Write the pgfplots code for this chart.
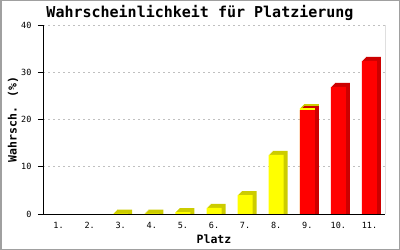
\documentclass[border=0pt]{standalone}
\usepackage{fontspec}
\setmainfont{DejaVu Sans Mono}
\usepackage{pgfplots}
\pgfplotsset{compat=1.18}
\usepackage{pgfplotstable}

\definecolor{yel}{HTML}{FFFF00}
\definecolor{dyel}{HTML}{CCCC00}
\definecolor{rd}{HTML}{FF0000}
\definecolor{drd}{HTML}{CC0000}
\definecolor{frame}{HTML}{A0A0A0}
\definecolor{gridc}{HTML}{C0C0C0}

\pgfplotstableread{
x v
3 0.1
4 0.1
5 0.4
6 1.3
7 4.0
8 12.5
9 22.4
}\yeltab
\pgfplotstableread{
x v
9 22.0
10 26.9
11 32.4
}\redtab

\begin{document}
\begin{tikzpicture}
\useasboundingbox (0,0) rectangle (400bp,250bp);
\draw[frame, line width=1.5bp] (0.75bp,0.75bp) rectangle (399.25bp,249.25bp);
\begin{axis}[
  at={(43bp,36bp)}, anchor=south west, scale only axis,
  width=342bp, height=189bp,
  xmin=0.5, xmax=11.5, ymin=0, ymax=40,
  axis x line*=bottom, axis y line*=left,
  axis line style={line width=1bp, black},
  tick align=outside,
  major tick length=5bp,
  ytick={0,10,20,30,40},
  xtick={1,...,11},
  xticklabels={1.,2.,3.,4.,5.,6.,7.,8.,9.,10.,11.},
  xtick style={draw=none},
  ytick style={line width=1bp, black},
  /pgf/number format/assume math mode=true,
  ticklabel style={font=\fontsize{8.5bp}{10bp}\selectfont},
  yticklabel style={xshift=-3bp},
  xticklabel style={yshift=0.5bp},
  ymajorgrids,
  major grid style={gridc, line width=1bp, dash pattern=on 2bp off 3bp},
  title={Wahrscheinlichkeit für Platzierung},
  title style={font=\bfseries\fontsize{15bp}{18bp}\selectfont, at={(0.5,1)}, anchor=base, xshift=-14bp, yshift=1.7bp},
  xlabel={Platz},
  xlabel style={font=\bfseries\fontsize{11.5bp}{14bp}\selectfont, at={(0.5,0)}, anchor=base, yshift=-29.3bp},
  ylabel={Wahrsch. (\%)},
  ylabel style={font=\bfseries\fontsize{11.5bp}{14bp}\selectfont, at={(0,0.5)}, anchor=center, yshift=30bp},
]
\pgfplotsinvokeforeach{1,2,3,4}{
  \addplot[ybar, bar width=15bp, bar shift=#1bp, draw=none, fill=dyel]
    table[x=x, y expr=\thisrow{v}+0.212*#1] {\yeltab};
}
\pgfplotsinvokeforeach{1,2,3,4}{
  \addplot[ybar, bar width=15bp, bar shift=#1bp, draw=none, fill=drd]
    table[x=x, y expr=\thisrow{v}+0.212*#1] {\redtab};
}
\addplot[ybar, bar width=15bp, bar shift=0bp, draw=none, fill=yel] table[x=x, y=v] {\yeltab};
\addplot[ybar, bar width=15bp, bar shift=0bp, draw=none, fill=rd] table[x=x, y=v] {\redtab};
\draw[line width=1bp, black] (rel axis cs:1,0) -- (rel axis cs:1,1);
\end{axis}
\end{tikzpicture}
\end{document}
